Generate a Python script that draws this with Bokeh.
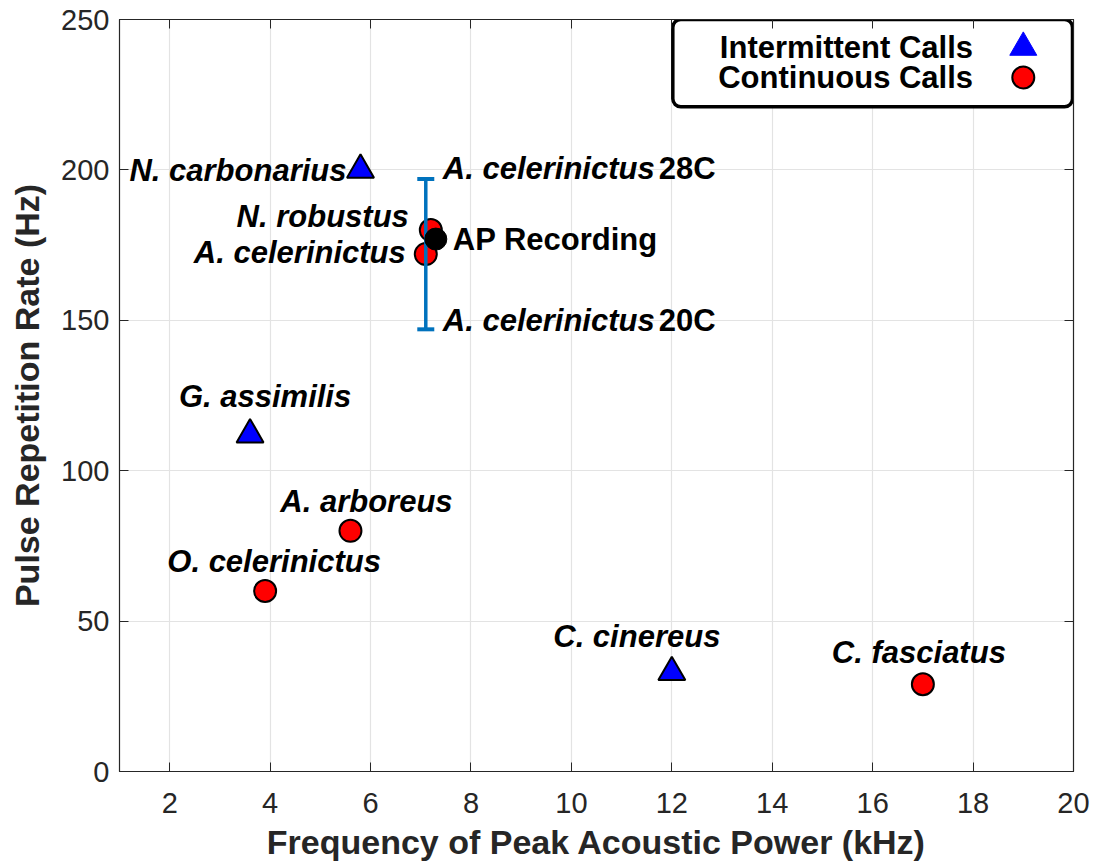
from bokeh.plotting import figure
from bokeh.models import (Range1d, FixedTicker, LinearAxis, BoxAnnotation, Label,
                          ColumnDataSource, CustomJSTickFormatter)
from bokeh.embed import file_html
from bokeh.resources import INLINE

# ---------------- data ----------------
inter_names = ["N. carbonarius", "G. assimilis", "C. cinereus"]
inter_freq = [5.8, 3.6, 12.0]
inter_rate = [200, 112, 33]

cont_names = ["N. robustus", "A. celerinictus", "A. arboreus", "O. celerinictus", "C. fasciatus"]
cont_freq = [7.2, 7.1, 5.6, 3.9, 17.0]
cont_rate = [180, 172, 80, 60, 29]

ap_name = ["AP Recording"]
ap_freq = [7.3]
ap_rate = [177]

err_freq = [7.1]
err_low = [147]
err_high = [197]
err_low_name = "20C"
err_high_name = "28C"
err_species = "A. celerinictus"

x_ticks = [2, 4, 6, 8, 10, 12, 14, 16, 18, 20]
y_ticks = [0, 50, 100, 150, 200, 250]

legend_labels = ["Intermittent Calls", "Continuous Calls"]

# label offsets (screen px) and alignment
inter_off = [(-14, 1, "right"), (15, -38, "center"), (-35, -36, "center")]
cont_off = [(-22, -14, "right"), (-20, -2, "right"), (16, -29, "center"),
            (9, -30, "center"), (-4, -32, "center")]

FONT = "Liberation Sans"
DARK = "#262626"
LABEL_SIZE = "31px"

p = figure(width=1093, height=864, output_backend="svg", toolbar_location=None,
           x_range=Range1d(1, 20), y_range=Range1d(0, 250),
           min_border_left=119, min_border_right=20, min_border_top=19,
           min_border_bottom=93)
p.background_fill_color = "white"
p.border_fill_color = "white"
p.outline_line_color = DARK
p.outline_line_width = 1.2

for ax, ticks in ((p.xaxis[0], x_ticks), (p.yaxis[0], y_ticks)):
    ax.ticker = FixedTicker(ticks=ticks)
    ax.major_tick_in = 9
    ax.major_tick_out = 0
    ax.minor_tick_line_color = None
    ax.axis_line_color = DARK
    ax.major_tick_line_color = DARK
    ax.major_label_text_font = FONT
    ax.major_label_text_font_size = "29px"
    ax.major_label_text_color = DARK
    ax.axis_label_text_font = FONT
    ax.axis_label_text_font_size = "34px"
    ax.axis_label_text_font_style = "bold"
    ax.axis_label_text_color = DARK

p.xaxis.axis_label = "Frequency of Peak Acoustic Power (kHz)"
p.yaxis.axis_label = "Pulse Repetition Rate (Hz)"
p.xaxis.major_label_standoff = 21
p.xaxis.axis_label_standoff = 7
p.yaxis.major_label_standoff = 10
p.yaxis.axis_label_standoff = 12

# tick marks only (no labels) on top and right, as in a boxed plot
for loc, ticks in (("above", x_ticks), ("right", y_ticks)):
    ax = LinearAxis(ticker=FixedTicker(ticks=ticks), major_tick_in=9, major_tick_out=0,
                    minor_tick_line_color=None,
                    formatter=CustomJSTickFormatter(code="return ''"),
                    major_label_standoff=0, axis_line_color=DARK,
                    major_tick_line_color=DARK)
    p.add_layout(ax, loc)

p.xgrid.ticker = FixedTicker(ticks=x_ticks)
p.ygrid.ticker = FixedTicker(ticks=y_ticks)
p.xgrid.grid_line_color = "#e3e3e3"
p.ygrid.grid_line_color = "#e3e3e3"
p.xgrid.grid_line_width = 1.2
p.ygrid.grid_line_width = 1.2

# legend box (under glyphs, above grid)
box = BoxAnnotation(left=12.02, right=19.98, top=250, bottom=221, fill_color="white",
                    fill_alpha=1.0, line_color="black", line_width=3.5, line_alpha=1.0,
                    border_radius=8, level="underlay")
p.add_layout(box)

# data glyphs
inter_src = ColumnDataSource(dict(x=inter_freq, y=inter_rate, name=inter_names))
cont_src = ColumnDataSource(dict(x=cont_freq, y=cont_rate, name=cont_names))

p.scatter("x", "y", source=cont_src, marker="circle", size=22, fill_color="#ff0000",
          line_color="black", line_width=2)

# error bar
p.segment(x0=err_freq, y0=err_low, x1=err_freq, y1=err_high, line_color="#0072BD",
          line_width=3.5)
p.scatter(x=err_freq * 2, y=err_low + err_high, marker="dash", size=17,
          line_color="#0072BD", line_width=4)

p.scatter(ap_freq, ap_rate, marker="circle", size=22, fill_color="black",
          line_color="black", line_width=1)

p.scatter("x", "y", source=inter_src, marker="triangle", size=27, fill_color="#0000ff",
          line_color="black", line_width=2)

# labels
def add_label(x, y, txt, dx, dy, align, style="bold italic"):
    p.add_layout(Label(x=x, y=y, text=txt, x_offset=dx, y_offset=-dy,
                       text_align=align, text_baseline="middle",
                       text_font=FONT, text_font_size=LABEL_SIZE,
                       text_font_style=style, text_color="black"))

for (x, y, n), (dx, dy, al) in zip(zip(inter_freq, inter_rate, inter_names), inter_off):
    add_label(x, y, n, dx, dy, al)
for (x, y, n), (dx, dy, al) in zip(zip(cont_freq, cont_rate, cont_names), cont_off):
    add_label(x, y, n, dx, dy, al)

add_label(ap_freq[0], ap_rate[0], ap_name[0], 17, 0, "left", style="bold")

add_label(err_freq[0], err_high[0], err_species, 17, -10, "left")
add_label(err_freq[0], err_high[0], err_high_name, 233, -10, "left", style="bold")
add_label(err_freq[0], err_low[0], err_species, 17, -9, "left")
add_label(err_freq[0], err_low[0], err_low_name, 233, -9, "left", style="bold")

# legend content
leg_text_x = 18.0
leg_mark_x = [19.0]
leg_y = [240.7, 230.7]
add_label(leg_text_x, leg_y[0], legend_labels[0], 0, 0, "right", style="bold")
add_label(leg_text_x, leg_y[1], legend_labels[1], 0, 0, "right", style="bold")
p.scatter(leg_mark_x, [leg_y[0]], marker="triangle", size=27, fill_color="#0000ff",
          line_color="#0000ff", line_width=1)
p.scatter(leg_mark_x, [leg_y[1]], marker="circle", size=22, fill_color="#ff0000",
          line_color="black", line_width=2)

open("out.html", "w").write(file_html(p, INLINE))
